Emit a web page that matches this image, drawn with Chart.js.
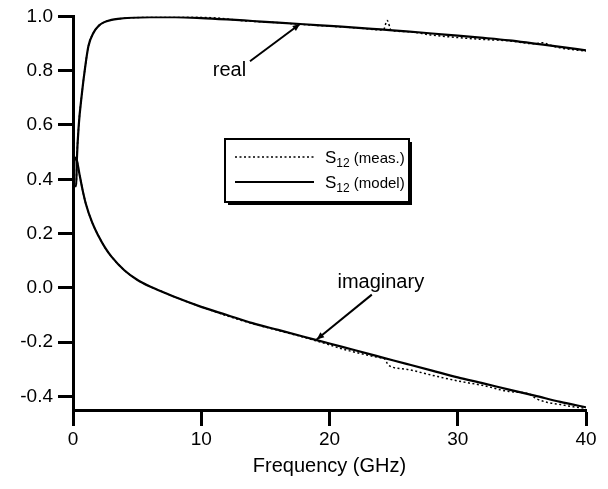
<!DOCTYPE html>
<html>
<head>
<meta charset="utf-8">
<script src="https://cdn.jsdelivr.net/npm/chart.js@4.4.1/dist/chart.umd.min.js"></script>
<style>
html,body{margin:0;padding:0;background:#fff;}
#wrap{width:608px;height:489px;position:relative;}
</style>
</head>
<body>
<div id="wrap"><canvas id="c" width="608" height="489"></canvas></div>
<script>
// ---- data ----
const xTicks = [0, 10, 20, 30, 40];
const yTicks = [-0.4, -0.2, 0.0, 0.2, 0.4, 0.6, 0.8, 1.0];

const freqModel = [0, 0.25, 0.3, 0.45, 0.68, 0.94, 1.2, 1.6, 2.0, 2.4, 3.0, 3.5, 4.5, 6, 8, 10, 12, 14, 16, 18, 20, 22, 24, 26, 28, 30, 32, 34, 36, 38, 40];
const realModel = [0.375, 0.375, 0.47, 0.60, 0.71, 0.81, 0.89, 0.94, 0.965, 0.978, 0.987, 0.991, 0.995, 0.997, 0.997, 0.994, 0.989, 0.983, 0.977, 0.971, 0.965, 0.959, 0.952, 0.945, 0.937, 0.929, 0.921, 0.912, 0.900, 0.888, 0.875];

const freqImagModel = [0, 0.15, 0.3, 0.5, 0.75, 1.0, 1.5, 2, 2.5, 3, 4, 5, 6, 7, 8, 10, 12, 14, 16, 18, 20, 22, 24, 26, 28, 30, 32, 34, 36, 38, 40];
const imagModel = [0.40, 0.48, 0.47, 0.42, 0.36, 0.31, 0.24, 0.19, 0.148, 0.115, 0.065, 0.03, 0.005, -0.015, -0.035, -0.07, -0.10, -0.13, -0.155, -0.18, -0.205, -0.23, -0.255, -0.28, -0.305, -0.33, -0.352, -0.375, -0.397, -0.42, -0.44];

const freqMeas = [0, 0.25, 0.3, 0.45, 0.68, 0.94, 1.2, 1.6, 2.0, 2.4, 3.0, 3.5, 4.5, 6, 8, 9.5, 10.5, 11.5, 13, 16, 18, 20, 22, 24.2, 24.5, 24.8, 26, 28, 30, 32, 34, 36, 36.6, 37.2, 38, 40];
const realMeas = [0.375, 0.375, 0.47, 0.60, 0.71, 0.81, 0.89, 0.94, 0.965, 0.978, 0.987, 0.991, 0.995, 0.997, 0.997, 0.998, 0.996, 0.993, 0.985, 0.977, 0.970, 0.964, 0.958, 0.950, 0.985, 0.950, 0.944, 0.931, 0.922, 0.915, 0.910, 0.899, 0.903, 0.894, 0.884, 0.872];

const freqImagMeas = [0, 0.15, 0.3, 0.5, 0.75, 1.0, 1.5, 2, 2.5, 3, 4, 5, 6, 7, 8, 10, 12, 14, 16, 18, 20, 21, 22.5, 24, 24.3, 24.6, 26, 28, 30, 32, 34, 35.5, 36.2, 37, 38, 39, 40];
const imagMeas = [0.40, 0.48, 0.47, 0.42, 0.36, 0.31, 0.24, 0.19, 0.148, 0.115, 0.065, 0.03, 0.005, -0.015, -0.035, -0.07, -0.103, -0.132, -0.157, -0.182, -0.21, -0.225, -0.243, -0.258, -0.262, -0.285, -0.30, -0.322, -0.343, -0.36, -0.382, -0.39, -0.41, -0.422, -0.43, -0.438, -0.444];

// annotation anchors in data units
const realLabel = {text: 'real', x: 12.2, y: 0.80};
const realArrow = {x0: 13.8, y0: 0.835, x1: 17.7, y1: 0.972};
const imagLabel = {text: 'imaginary', x: 24.0, y: 0.02};
const imagArrow = {x0: 23.3, y0: -0.025, x1: 19.0, y1: -0.19};

const legendItems = [
  {sub: '12', rest: ' (meas.)', dash: [2, 2.5]},
  {sub: '12', rest: ' (model)', dash: []}
];

const pts = (xs, ys) => xs.map((x, i) => ({x: x, y: ys[i]}));

const FONT = "'Liberation Sans', Arial, Helvetica, sans-serif";
Chart.defaults.font.family = FONT;
Chart.defaults.font.size = 19;
Chart.defaults.color = '#000';

const annot = {
  id: 'annot',
  afterDraw(chart) {
    const ctx = chart.ctx, xs = chart.scales.x, ys = chart.scales.y;
    ctx.save();
    ctx.fillStyle = '#000';
    ctx.strokeStyle = '#000';
    ctx.font = '20px ' + FONT;
    ctx.textAlign = 'center';
    ctx.textBaseline = 'middle';
    ctx.fillText(realLabel.text, xs.getPixelForValue(realLabel.x), ys.getPixelForValue(realLabel.y));
    ctx.fillText(imagLabel.text, xs.getPixelForValue(imagLabel.x), ys.getPixelForValue(imagLabel.y));
    const arrow = (a) => {
      const x0 = xs.getPixelForValue(a.x0), y0 = ys.getPixelForValue(a.y0);
      const x1 = xs.getPixelForValue(a.x1), y1 = ys.getPixelForValue(a.y1);
      ctx.lineWidth = 2;
      ctx.beginPath(); ctx.moveTo(x0, y0); ctx.lineTo(x1, y1); ctx.stroke();
      const ang = Math.atan2(y1 - y0, x1 - x0), L = 8, W = 0.4;
      ctx.beginPath();
      ctx.moveTo(x1, y1);
      ctx.lineTo(x1 - L * Math.cos(ang - W), y1 - L * Math.sin(ang - W));
      ctx.lineTo(x1 - L * Math.cos(ang + W), y1 - L * Math.sin(ang + W));
      ctx.closePath(); ctx.fill();
    };
    arrow(realArrow);
    arrow(imagArrow);

    // legend box with drop shadow
    const bx = 225, by = 139, bw = 184, bh = 63;
    ctx.fillStyle = '#000';
    ctx.fillRect(bx + 3, by + 3, bw, bh);
    ctx.fillStyle = '#fff';
    ctx.fillRect(bx, by, bw, bh);
    ctx.lineWidth = 2;
    ctx.strokeRect(bx, by, bw, bh);
    ctx.fillStyle = '#000';
    legendItems.forEach((it, i) => {
      const yy = by + 18 + i * 25;
      ctx.setLineDash(it.dash);
      ctx.lineWidth = it.dash.length ? 1.5 : 2;
      ctx.beginPath(); ctx.moveTo(bx + 10, yy); ctx.lineTo(bx + 89, yy); ctx.stroke();
      ctx.setLineDash([]);
      ctx.textAlign = 'left';
      ctx.textBaseline = 'alphabetic';
      let tx = bx + 100;
      ctx.font = '17px ' + FONT;
      ctx.fillText('S', tx, yy + 6);
      tx += ctx.measureText('S').width;
      ctx.font = '12px ' + FONT;
      ctx.fillText(it.sub, tx, yy + 10);
      tx += ctx.measureText(it.sub).width;
      ctx.font = '15px ' + FONT;
      ctx.fillText(it.rest, tx, yy + 6);
    });
    ctx.restore();
  }
};

const lineDs = (label, data, dash, width) => ({
  label, data, borderColor: '#000', backgroundColor: '#000', borderWidth: width,
  borderDash: dash, pointRadius: 0, fill: false, cubicInterpolationMode: 'monotone'
});

new Chart(document.getElementById('c'), {
  type: 'line',
  data: {
    datasets: [
      lineDs('real model', pts(freqModel, realModel), [], 2.2),
      lineDs('imag model', pts(freqImagModel, imagModel), [], 2.2),
      lineDs('real meas', pts(freqMeas, realMeas), [2, 2.5], 1.5),
      lineDs('imag meas', pts(freqImagMeas, imagMeas), [2, 2.5], 1.5)
    ]
  },
  options: {
    responsive: false,
    animation: false,
    layout: {padding: {top: 16, right: 22, left: 0, bottom: 0}},
    plugins: {legend: {display: false}, tooltip: {enabled: false}},
    scales: {
      x: {
        type: 'linear', min: 0, max: 40,
        afterBuildTicks: s => { s.ticks = xTicks.map(v => ({value: v})); },
        afterFit: s => { s.height = 79; },
        ticks: {color: '#000', font: {size: 19}, padding: 2, maxRotation: 0, autoSkip: false},
        grid: {drawOnChartArea: false, drawTicks: true, tickLength: 16, tickWidth: 3, tickColor: '#000'},
        border: {display: true, color: '#000', width: 3},
        title: {display: true, text: 'Frequency (GHz)', color: '#000', font: {size: 20}, padding: {top: 0, bottom: 11}}
      },
      y: {
        type: 'linear', min: -0.45, max: 1.0,
        afterBuildTicks: s => { s.ticks = yTicks.map(v => ({value: v})); },
        afterFit: s => { s.width = 73; },
        ticks: {color: '#000', font: {size: 19}, padding: 5, callback: v => Number(v).toFixed(1)},
        grid: {drawOnChartArea: false, drawTicks: true, tickLength: 15, tickWidth: 3, tickColor: '#000'},
        border: {display: true, color: '#000', width: 3}
      }
    }
  },
  plugins: [annot]
});
</script>
</body>
</html>
